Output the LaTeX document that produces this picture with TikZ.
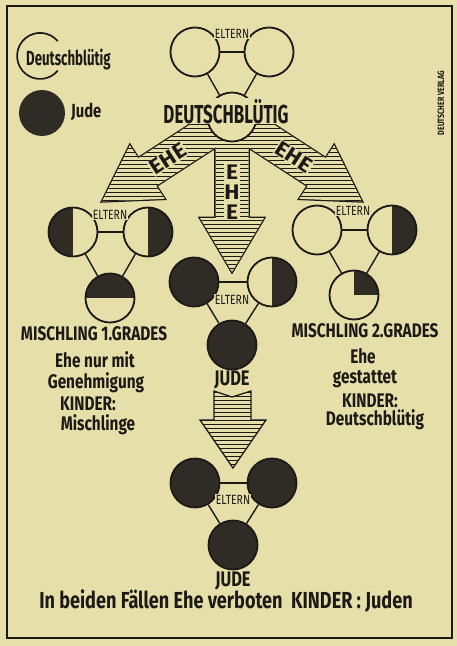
\documentclass[tikz,border=0pt]{standalone}
\usepackage{fontspec}
\setmainfont{Fira Sans}
\newfontfamily\lettering[FakeStretch=0.78]{Fira Sans}
\newfontfamily\narrowlettering[FakeStretch=0.65]{Fira Sans}
\newfontfamily\widelettering[FakeStretch=1.08]{Fira Sans}
\usetikzlibrary{positioning}
\definecolor{paper}{HTML}{E6DFA9}
\definecolor{ink}{HTML}{1C1A16}
\definecolor{soot}{HTML}{2F2C26}

% the three EHE arrows leave the hub; #1 = path options, #2 = angle
\newcommand{\ehearrow}[2]{\path[#1,shift={(hub)},rotate=#2] (0,-16.5) -- (101,-16.5) -- (101,-32) -- (155,0) -- (101,32) -- (101,16.5) -- (0,16.5) -- cycle;}
\newcommand{\droparrow}[1]{\path[#1] (214,391) -- (232,397) -- (251,391) -- (251,420) -- (266,420) -- (233,468) -- (200,420) -- (214,420) -- cycle;}

\tikzset{
  plate/.style={draw=ink,line width=2.6pt},
  ring/.style={ink,line width=2.4pt},
  parent/.style={circle,draw=ink,line width=2.6pt,fill=paper,minimum size=2.45cm,inner sep=0pt},
  dark/.style={parent,fill=soot},
  halfleft/.style={parent,path picture={\fill[soot] (path picture bounding box.south west) rectangle (path picture bounding box.north);}},
  halfright/.style={parent,path picture={\fill[soot] (path picture bounding box.south) rectangle (path picture bounding box.north east);}},
  halftop/.style={parent,path picture={\fill[soot] (path picture bounding box.west) rectangle (path picture bounding box.north east);}},
  quarter/.style={parent,path picture={\fill[soot] (path picture bounding box.center) rectangle (path picture bounding box.north east);}},
  bond/.style={ink,line width=2pt},
  stripe/.style={ink,line width=1pt},
  eltern/.style={font=\lettering\fontsize{19}{19}\selectfont,fill=paper,inner sep=0.8pt,text=ink},
  ehe/.style={font=\widelettering\bfseries\fontsize{30}{28.5}\selectfont,fill=paper,inner sep=1pt,text=ink},
  bigword/.style={font=\narrowlettering\bfseries\fontsize{37}{37}\selectfont,fill=paper,inner sep=1pt,text=ink},
  caption/.style={font=\lettering\bfseries\fontsize{28}{28}\selectfont,text=ink,inner sep=0pt,anchor=base},
  body/.style={font=\lettering\bfseries\fontsize{28}{28}\selectfont,text=ink,inner sep=0pt,anchor=base},
  legword/.style={font=\narrowlettering\bfseries\fontsize{29}{29}\selectfont,text=ink,inner sep=0pt,anchor=base west},
  publisher/.style={font=\lettering\bfseries\fontsize{13}{13}\selectfont,text=ink,inner sep=0pt}
}

\begin{document}
\begin{tikzpicture}[x=0.05cm,y=-0.05cm]
  \useasboundingbox[fill=paper] (0,0) rectangle (457,646);
  \draw[plate] (7,6) rectangle (452,638);

  % legend
  \node[circle,minimum size=2.3cm,inner sep=0pt] (legopen) at (40,56) {};
  \draw[ring] (legopen.40) arc[start angle=-40,end angle=-320,radius=23];
  \node[legword] (legbio) at (26,65) {Deutschblütig};
  \node[circle,fill=soot,minimum size=2.3cm,inner sep=0pt] (legdark) at (42,113) {};
  \node[body,anchor=base west,font=\lettering\bfseries\fontsize{27}{27}\selectfont] (legjude) at (71,117) {Jude};

  % EHE arrows
  \coordinate (hub) at (232,117);
  \foreach \a in {-147,-90,-33} {\ehearrow{draw=ink,line width=3.6pt}{\a}}
  \foreach \a in {-147,-90,-33} {\ehearrow{fill=paper}{\a}}
  \foreach \a in {-147,-90,-33} {
    \begin{scope}
      \ehearrow{clip}{\a}
      \foreach \yy in {100,104,...,290} \draw[stripe] (0,\yy) -- (457,\yy);
    \end{scope}
  }
  \node[ehe,rotate=33] (eheleft) at (168,159) {EHE};
  \node[ehe,rotate=-33] (eheright) at (294,157) {EHE};
  \node[ehe,align=center] (ehemid) at (232,192) {E\\H\\E};

  % top: Deutschbluetig parents
  \node[parent] (topl) at (195,52) {};
  \node[parent] (topr) at (269,52) {};
  \node[parent] (topc) at (hub) {};
  \draw[bond] (topl) -- (topr);
  \draw[bond] (topl) -- (topc);
  \draw[bond] (topr) -- (topc);
  \node[eltern,anchor=base] (toptag) at (232,38) {ELTERN};
  \node[bigword,anchor=base] (topword) at (226,123) {DEUTSCHBLÜTIG};

  % Mischling 1. Grades
  \node[halfleft] (m1l) at (73,232) {};
  \node[halfright] (m1r) at (148,232) {};
  \node[halftop] (m1c) at (110,298) {};
  \draw[bond] (m1l) -- (m1r);
  \draw[bond] (m1l) -- (m1c);
  \draw[bond] (m1r) -- (m1c);
  \node[eltern,anchor=base] (m1tag) at (110,219) {ELTERN};
  \node[caption] (m1name) at (94,340) {MISCHLING 1.GRADES};
  \node[body] (m1rulea) at (95,367) {Ehe nur mit};
  \node[body] (m1ruleb) at (96,388) {Genehmigung};
  \node[body] (m1kids) at (88,410) {KINDER:};
  \node[body] (m1kidsval) at (98,430) {Mischlinge};

  % Jude
  \node[dark] (jl) at (194,282) {};
  \node[halfright] (jr) at (272,282) {};
  \node[dark] (jc) at (232,345) {};
  \draw[bond] (jl) -- (jr);
  \draw[bond] (jl) -- (jc);
  \draw[bond] (jr) -- (jc);
  \node[eltern,anchor=base] (jtag) at (232,304) {ELTERN};
  \node[caption,font=\lettering\bfseries\fontsize{30}{30}\selectfont] (jname) at (232,385) {JUDE};

  \begin{scope}
    \droparrow{clip}
    \foreach \yy in {388,392,...,470} \draw[stripe] (0,\yy) -- (457,\yy);
  \end{scope}
  \droparrow{draw=ink,line width=1.8pt}

  % Mischling 2. Grades
  \node[parent] (m2l) at (317,230) {};
  \node[halfright] (m2r) at (392,230) {};
  \node[quarter] (m2c) at (354,295) {};
  \draw[bond] (m2l) -- (m2r);
  \draw[bond] (m2l) -- (m2c);
  \draw[bond] (m2r) -- (m2c);
  \node[eltern,anchor=base] (m2tag) at (353,215) {ELTERN};
  \node[caption] (m2name) at (365,337) {MISCHLING 2.GRADES};
  \node[body] (m2rulea) at (363,363) {Ehe};
  \node[body] (m2ruleb) at (365,383) {gestattet};
  \node[body] (m2kids) at (370,407) {KINDER:};
  \node[body] (m2kidsval) at (375,425) {Deutschblütig};

  % bottom: Jude parents
  \node[dark] (bl) at (195,483) {};
  \node[dark] (br) at (272,483) {};
  \node[dark] (bc) at (233,545) {};
  \draw[bond] (bl) -- (br);
  \draw[bond] (bl) -- (bc);
  \draw[bond] (br) -- (bc);
  \node[eltern,anchor=base] (btag) at (233,504) {ELTERN};
  \node[caption,font=\lettering\bfseries\fontsize{30}{30}\selectfont] (bname) at (233,586) {JUDE};
  \node[body,font=\lettering\bfseries\fontsize{33}{33}\selectfont] (verdict) at (226,608) {In beiden Fällen Ehe verboten~~KINDER : Juden};

  \node[publisher,rotate=90] (verlag) at (441,103) {DEUTSCHER VERLAG};
\end{tikzpicture}
\end{document}
